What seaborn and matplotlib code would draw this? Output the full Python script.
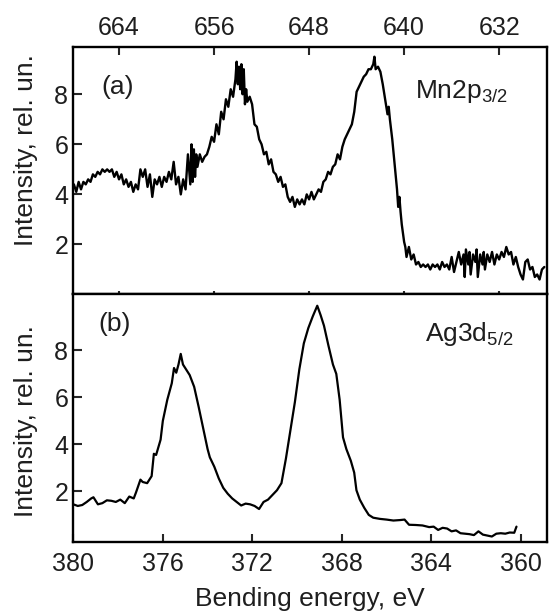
import numpy as np
import pandas as pd
import seaborn as sns
import matplotlib as mpl
from matplotlib import pyplot as plt

# Mn2p3/2 spectrum (panel a)
mn_energy = [667.8, 667.6, 667.4, 667.2, 667.0, 666.8, 666.6, 666.4, 666.2, 666.0,
             665.8, 665.6, 665.4, 665.2, 665.0, 664.8, 664.6, 664.4, 664.2, 664.0,
             663.8, 663.6, 663.4, 663.2, 663.0, 662.8, 662.6, 662.4, 662.2, 662.0,
             661.8, 661.6, 661.4, 661.2, 661.0, 660.8, 660.6, 660.4, 660.2, 660.0,
             659.8, 659.6, 659.4, 659.2, 659.0, 658.8, 658.6, 658.4, 658.2, 658.0,
             657.9, 657.8, 657.7, 657.6, 657.5, 657.4, 657.2, 657.0, 656.8, 656.6,
             656.4, 656.2, 656.0, 655.8, 655.6, 655.4, 655.2, 655.0, 654.8, 654.6,
             654.4, 654.2, 654.1, 654.0, 653.9, 653.8, 653.7, 653.6, 653.5, 653.4,
             653.3, 653.2, 653.0, 652.8, 652.6, 652.4, 652.2, 652.0, 651.8, 651.6,
             651.4, 651.2, 651.0, 650.8, 650.6, 650.4, 650.2, 650.0, 649.8, 649.6,
             649.4, 649.2, 649.0, 648.8, 648.6, 648.4, 648.2, 648.0, 647.8, 647.6,
             647.4, 647.2, 647.0, 646.8, 646.6, 646.4, 646.2, 646.0, 645.8, 645.6,
             645.4, 645.2, 645.0, 644.8, 644.6, 644.4, 644.2, 644.0, 643.8, 643.6,
             643.4, 643.2, 643.0, 642.8, 642.6, 642.5, 642.4, 642.2, 642.0, 641.8,
             641.6, 641.4, 641.3, 641.2, 641.0, 640.8, 640.6, 640.5, 640.4, 640.3,
             640.2, 640.0, 639.9, 639.8, 639.6, 639.4, 639.2, 639.0, 638.8, 638.6,
             638.4, 638.2, 638.0, 637.8, 637.6, 637.4, 637.2, 637.0, 636.8, 636.6,
             636.4, 636.2, 636.0, 635.8, 635.6, 635.4, 635.2, 635.0, 634.9, 634.8,
             634.6, 634.5, 634.4, 634.2, 634.0, 633.9, 633.8, 633.6, 633.4, 633.3,
             633.2, 633.0, 632.8, 632.6, 632.4, 632.2, 632.0, 631.8, 631.6, 631.4,
             631.2, 631.0, 630.8, 630.6, 630.4, 630.2, 630.0, 629.8, 629.6, 629.4,
             629.2, 629.0, 628.8, 628.6, 628.4, 628.2]
mn_intensity = [4.4, 4.1, 4.5, 4.2, 4.5, 4.4, 4.6, 4.5, 4.8, 4.7,
                4.9, 4.8, 5.0, 4.9, 5.0, 4.9, 5.0, 4.7, 4.9, 4.6,
                4.8, 4.4, 4.6, 4.3, 4.5, 4.1, 4.4, 4.2, 5.0, 4.7,
                5.0, 4.3, 4.8, 3.9, 4.6, 4.4, 4.7, 4.3, 4.7, 4.5,
                4.9, 4.6, 5.3, 4.4, 4.7, 4.0, 4.6, 4.2, 5.6, 4.4,
                6.0, 4.5, 5.8, 4.7, 5.6, 5.1, 5.6, 5.3, 5.5, 5.6,
                5.9, 6.3, 6.1, 6.8, 6.4, 7.3, 7.0, 7.8, 7.5, 8.2,
                7.9, 8.6, 9.3, 8.4, 9.1, 8.2, 9.2, 8.0, 9.0, 7.6,
                8.2, 7.7, 7.9, 7.6, 6.8, 6.7, 6.2, 6.0, 5.6, 5.7,
                5.2, 5.4, 4.9, 4.8, 4.5, 4.7, 4.3, 4.4, 3.9, 3.7,
                3.9, 3.5, 3.8, 3.6, 3.8, 3.6, 4.0, 3.8, 4.1, 3.8,
                4.0, 4.2, 4.1, 4.5, 4.6, 4.9, 4.8, 5.1, 5.2, 5.6,
                5.4, 5.9, 6.2, 6.4, 6.6, 6.8, 7.3, 8.1, 8.3, 8.5,
                8.7, 8.8, 9.0, 9.0, 9.2, 9.5, 9.0, 9.1, 8.9, 8.4,
                7.8, 7.2, 7.5, 7.0, 6.2, 5.2, 4.2, 3.5, 3.9, 3.3,
                2.8, 2.1, 1.9, 1.5, 1.9, 1.4, 1.6, 1.2, 1.3, 1.1,
                1.2, 1.1, 1.2, 1.0, 1.2, 1.1, 1.2, 1.0, 1.3, 1.1,
                1.2, 1.0, 1.5, 0.9, 1.3, 1.7, 1.2, 1.6, 0.7, 1.8,
                1.2, 1.7, 0.8, 1.6, 1.3, 1.8, 0.7, 1.6, 1.2, 1.7,
                1.0, 1.6, 1.3, 1.7, 1.2, 1.6, 1.4, 1.7, 1.5, 1.9,
                1.6, 1.7, 1.2, 1.5, 1.1, 0.8, 0.6, 1.3, 1.4, 1.0,
                1.1, 0.7, 0.8, 0.6, 1.0, 1.1]

# Ag3d5/2 spectrum (panel b)
ag_energy = [380.0, 379.8, 379.6, 379.4, 379.2, 379.1, 378.9, 378.7, 378.5, 378.3,
             378.1, 377.9, 377.7, 377.5, 377.3, 377.2, 377.0, 376.9, 376.7, 376.5,
             376.4, 376.3, 376.1, 376.0, 375.8, 375.6, 375.5, 375.4, 375.3, 375.2,
             375.1, 375.0, 374.8, 374.6, 374.4, 374.2, 374.0, 373.9, 373.7, 373.5,
             373.3, 373.1, 372.9, 372.7, 372.5, 372.3, 372.1, 371.9, 371.7, 371.5,
             371.3, 371.1, 370.9, 370.7, 370.5, 370.3, 370.1, 369.9, 369.7, 369.5,
             369.3, 369.1, 368.95, 368.8, 368.6, 368.4, 368.25, 368.1, 367.95, 367.8,
             367.6, 367.45, 367.35, 367.2, 367.0, 366.8, 366.6, 366.3, 366.0, 365.7,
             365.4, 365.2, 365.0, 364.7, 364.4, 364.1, 363.9, 363.7, 363.5, 363.3,
             363.1, 362.9, 362.7, 362.5, 362.3, 362.1, 361.9, 361.7, 361.5, 361.3,
             361.1, 360.9, 360.7, 360.5, 360.3, 360.2]
ag_intensity = [1.45, 1.38, 1.42, 1.55, 1.70, 1.75, 1.45, 1.50, 1.62, 1.60,
                1.55, 1.65, 1.50, 1.78, 1.70, 1.95, 2.50, 2.40, 2.35, 2.65,
                3.60, 3.55, 4.20, 5.00, 5.90, 6.60, 7.25, 7.05, 7.40, 7.85,
                7.40, 7.25, 6.95, 6.45, 5.60, 4.70, 3.80, 3.45, 3.05, 2.55,
                2.15, 1.90, 1.70, 1.55, 1.40, 1.48, 1.45, 1.38, 1.25, 1.55,
                1.65, 1.85, 2.05, 2.35, 3.40, 4.60, 5.80, 7.20, 8.30, 8.95,
                9.45, 9.90, 9.50, 9.05, 8.20, 7.40, 7.00, 5.90, 4.30, 3.80,
                3.30, 2.80, 2.05, 1.65, 1.30, 1.00, 0.88, 0.83, 0.80, 0.76,
                0.78, 0.80, 0.58, 0.57, 0.55, 0.48, 0.50, 0.36, 0.45, 0.42,
                0.30, 0.34, 0.22, 0.20, 0.18, 0.14, 0.30, 0.16, 0.12, 0.08,
                0.20, 0.22, 0.20, 0.25, 0.24, 0.50]

mn_ticks = [664, 656, 648, 640, 632]
ag_ticks = [380, 376, 372, 368, 364, 360]
y_ticks = [2, 4, 6, 8]

sns.set_theme(style="ticks")
plt.rcParams['font.family'] = ['Liberation Sans', 'DejaVu Sans']
plt.rcParams['mathtext.fontset'] = 'custom'
plt.rcParams['mathtext.rm'] = 'Liberation Sans'
txt = '#1e1e1e'

fig = plt.figure(figsize=(5.49, 6.12), dpi=100)
ax1 = fig.add_axes([0.1335, 0.5204, 0.8623, 0.4033])
ax2 = fig.add_axes([0.1335, 0.1149, 0.8623, 0.4055])

mn = pd.DataFrame({'energy': mn_energy, 'intensity': mn_intensity})
ag = pd.DataFrame({'energy': ag_energy, 'intensity': ag_intensity})
sns.lineplot(data=mn, x='energy', y='intensity', ax=ax1, color='black', lw=1.7)
sns.lineplot(data=ag, x='energy', y='intensity', ax=ax2, color='black', lw=1.6)

ax1.set_xlim(667.85, 628.0)
ax1.set_ylim(0.04, 9.9)
ax2.set_xlim(380.0, 358.85)
ax2.set_ylim(-0.14, 10.42)

for ax in (ax1, ax2):
    for s in ax.spines.values():
        s.set_linewidth(1.7)
        s.set_color('black')
    ax.set_yticks(y_ticks)
    ax.tick_params(axis='y', direction='in', length=6.5, width=1.5, pad=3.6,
                   labelsize=18, labelcolor=txt, left=True, right=False)
    ax.set_xlabel('')
    ax.set_ylabel('Intensity, rel. un.', fontsize=19, color=txt)

ax1.set_xticks(mn_ticks)
ax1.xaxis.tick_top()
ax1.tick_params(axis='x', direction='in', length=5.5, width=1.5, pad=4.8,
                labelsize=18, labelcolor=txt, top=True, bottom=True,
                labeltop=True, labelbottom=False)
for t in ax1.xaxis.get_major_ticks():
    t.tick1line.set_color('#dcdcdc')
    t.tick1line.set_markersize(2)
ax1.yaxis.set_label_coords(-0.075, 0.58)

ax2.set_xticks(ag_ticks)
ax2.tick_params(axis='x', direction='in', length=5.5, width=1.5, pad=7.5,
                labelsize=18, labelcolor=txt, top=False, bottom=True)
ax2.set_xlabel('Bending energy, eV', fontsize=19, color=txt, labelpad=8)
ax2.yaxis.set_label_coords(-0.075, 0.488)

ax1.text(0.06, 0.838, '(a)', transform=ax1.transAxes, fontsize=19, color=txt,
         ha='left', va='center')
ax1.text(0.722, 0.791, r'$\mathregular{Mn2p_{3/2}}$', transform=ax1.transAxes,
         fontsize=19, color=txt, ha='left', va='baseline')
ax2.text(0.052, 0.876, '(b)', transform=ax2.transAxes, fontsize=19, color=txt,
         ha='left', va='center')
ax2.text(0.743, 0.808, r'$\mathregular{Ag3d_{5/2}}$', transform=ax2.transAxes,
         fontsize=19, color=txt, ha='left', va='baseline')

fig.savefig('out.png', dpi=100)
